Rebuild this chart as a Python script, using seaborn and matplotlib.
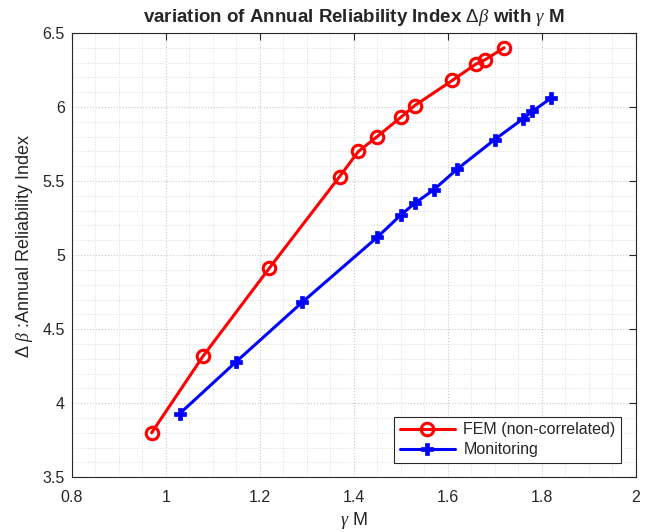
import matplotlib
matplotlib.use("Agg")
import matplotlib.pyplot as plt
import seaborn as sns
import pandas as pd
from matplotlib.ticker import MultipleLocator, AutoMinorLocator

fem_x = [0.97, 1.08, 1.22, 1.37, 1.41, 1.45, 1.50, 1.53, 1.61, 1.66, 1.68, 1.72]
fem_y = [3.80, 4.32, 4.91, 5.53, 5.70, 5.80, 5.93, 6.01, 6.18, 6.29, 6.32, 6.40]
mon_x = [1.03, 1.15, 1.29, 1.45, 1.50, 1.53, 1.57, 1.62, 1.70, 1.76, 1.78, 1.82]
mon_y = [3.93, 4.28, 4.68, 5.12, 5.27, 5.35, 5.44, 5.58, 5.78, 5.92, 5.97, 6.06]
labels = ["FEM (non-correlated)", "Monitoring"]

sns.set_style("white")
plt.rcParams['font.family'] = ['Liberation Sans', 'DejaVu Sans']
plt.rcParams['mathtext.fontset'] = 'custom'
plt.rcParams['mathtext.rm'] = 'Liberation Sans'
plt.rcParams['mathtext.it'] = 'Liberation Serif:italic'
plt.rcParams['mathtext.bf'] = 'Liberation Sans:bold'

fem = pd.DataFrame({"x": fem_x, "y": fem_y})
mon = pd.DataFrame({"x": mon_x, "y": mon_y})

fig = plt.figure(figsize=(6.58, 5.32), dpi=100)
ax = fig.add_axes([0.109, 0.103, 0.857, 0.835])

sns.lineplot(data=fem, x="x", y="y", ax=ax, color="#ff0000", linewidth=2.2,
             marker="o", markersize=9, markerfacecolor="none",
             markeredgecolor="#ff0000", markeredgewidth=2.2, label=labels[0],
             sort=False, estimator=None)
sns.lineplot(data=mon, x="x", y="y", ax=ax, color="#0000ff", linewidth=2.2,
             marker="P", markersize=8, markerfacecolor="#0000ff",
             markeredgecolor="#0000ff", markeredgewidth=0.5, label=labels[1],
             sort=False, estimator=None)

ax.set_xlim(0.8, 2.0)
ax.set_ylim(3.5, 6.5)
ax.set_xticks([0.8, 1.0, 1.2, 1.4, 1.6, 1.8, 2.0])
ax.set_xticklabels(["0.8", "1", "1.2", "1.4", "1.6", "1.8", "2"])
ax.set_yticks([3.5, 4, 4.5, 5, 5.5, 6, 6.5])
ax.set_yticklabels(["3.5", "4", "4.5", "5", "5.5", "6", "6.5"])
ax.xaxis.set_minor_locator(AutoMinorLocator(4))
ax.yaxis.set_minor_locator(AutoMinorLocator(5))

ax.grid(True, which='major', linestyle=':', color='#c8c8c8', linewidth=0.8)
ax.grid(True, which='minor', linestyle=':', color='#dcdcdc', linewidth=0.7)
ax.tick_params(which='major', direction='in', length=5, top=True, right=True,
               labelsize=11.5, color='#262626', width=0.8)
ax.tick_params(axis='x', which='major', pad=9)
ax.tick_params(axis='y', which='major', pad=5)
ax.tick_params(which='minor', length=0, top=True, right=True)
for s in ax.spines.values():
    s.set_color('#262626')
    s.set_linewidth(0.8)

ax.set_xlabel(r"$\gamma$ M", fontsize=13, labelpad=4)
ax.set_ylabel(r"$\Delta\ \beta$ :Annual Reliability Index", fontsize=13)
ax.yaxis.set_label_coords(-0.066, 0.52)
ax.set_title(r"variation of Annual Reliability Index $\Delta\beta$ with $\gamma$ M",
             fontsize=13.5, fontweight='bold', pad=8)

leg = ax.legend(loc='lower right', fontsize=11.5, frameon=True, fancybox=False,
                edgecolor='#262626', framealpha=1, borderpad=0.35, labelspacing=0.3,
                handlelength=3.5, handletextpad=0.5, borderaxespad=0.9)
leg.get_frame().set_linewidth(0.8)

fig.savefig("out.png", dpi=100)
